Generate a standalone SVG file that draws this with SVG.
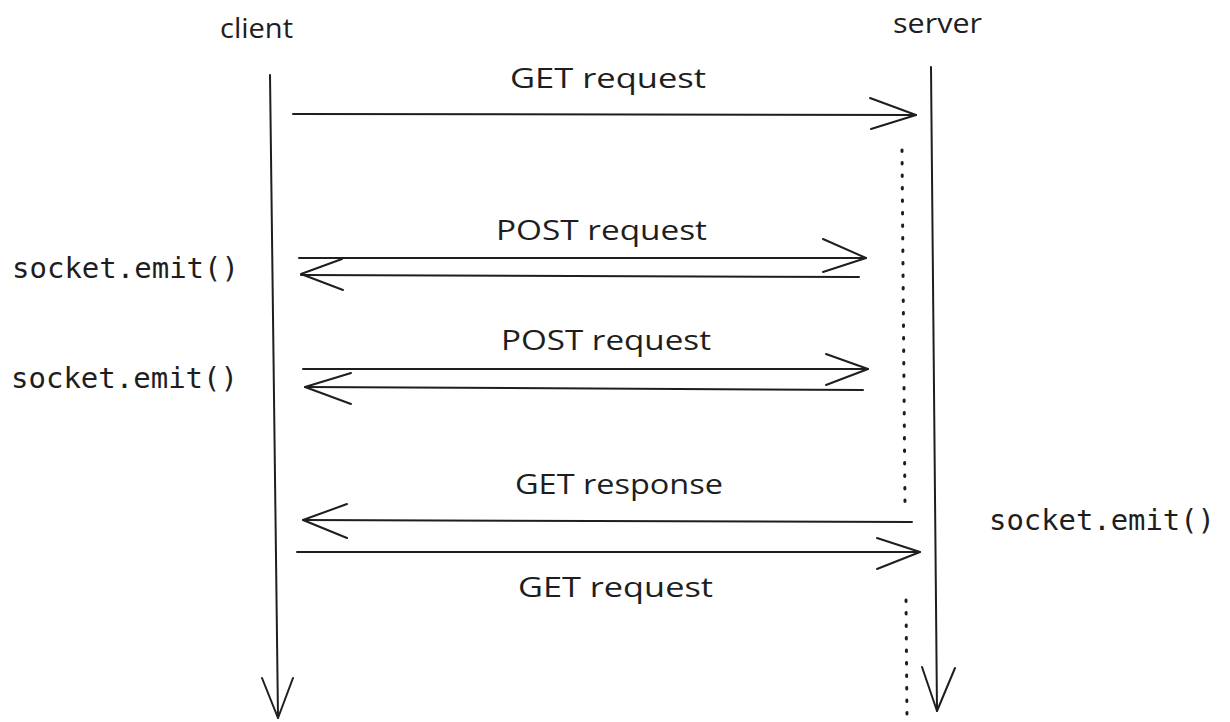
<svg xmlns="http://www.w3.org/2000/svg" width="1230" height="722" viewBox="0 0 1230 722">
  <style>
    .ln { stroke: #1e1e1e; stroke-width: 2; fill: none; stroke-linecap: round; stroke-linejoin: round; }
    .dot { stroke: #1e1e1e; stroke-width: 3; fill: none; stroke-linecap: round; stroke-dasharray: 1.5 11; }
    .hand { font-family: "Open Sans", "Liberation Sans", sans-serif; font-size: 27px; fill: #1e1e1e; }
    .code { font-family: "DejaVu Sans Mono", "Liberation Mono", monospace; font-size: 29px; fill: #1e1e1e; }
  </style>
  <rect width="1230" height="722" fill="#ffffff"/>

  <g id="client">
    <text class="hand" x="220" y="38" textLength="73" lengthAdjust="spacingAndGlyphs">client</text>
    <path class="ln" d="M270 75 L278 718"/>
    <path class="ln" d="M262 678 L278 718 L293 678"/>
  </g>

  <g id="server">
    <text class="hand" x="893" y="33" textLength="89" lengthAdjust="spacingAndGlyphs">server</text>
    <path class="ln" d="M931 67 L937 711"/>
    <path class="ln" d="M922 667 L937 711 L955 668"/>
    <path class="dot" d="M902 150 L905 506"/>
    <path class="dot" d="M906 600 L907 722"/>
  </g>

  <g id="socket-emit-1">
    <text class="code" x="12" y="278" textLength="227" lengthAdjust="spacingAndGlyphs">socket.emit()</text>
  </g>
  <g id="socket-emit-2">
    <text class="code" x="11" y="388" textLength="227" lengthAdjust="spacingAndGlyphs">socket.emit()</text>
  </g>
  <g id="socket-emit-3">
    <text class="code" x="989" y="530" textLength="226" lengthAdjust="spacingAndGlyphs">socket.emit()</text>
  </g>

  <g id="labels">
    <text class="hand" x="510" y="88" textLength="196" lengthAdjust="spacingAndGlyphs">GET request</text>
    <text class="hand" x="496" y="240" textLength="211" lengthAdjust="spacingAndGlyphs">POST request</text>
    <text class="hand" x="501" y="350" textLength="210" lengthAdjust="spacingAndGlyphs">POST request</text>
    <text class="hand" x="515" y="494" textLength="208" lengthAdjust="spacingAndGlyphs">GET response</text>
    <text class="hand" x="518" y="597" textLength="195" lengthAdjust="spacingAndGlyphs">GET request</text>
  </g>

  <g id="connectors">
    <!-- GET request 1 -->
    <path class="ln" d="M293 114 L916 115"/>
    <path class="ln" d="M870 98 L916 115 L871 129"/>
    <!-- POST request 1 -->
    <path class="ln" d="M299 258 L866 258"/>
    <path class="ln" d="M823 239 L866 258 L823 272"/>
    <path class="ln" d="M859 277 L301 275"/>
    <path class="ln" d="M342 259 L301 274 L343 290"/>
    <!-- POST request 2 -->
    <path class="ln" d="M303 369 L868 369"/>
    <path class="ln" d="M826 354 L868 369 L826 385"/>
    <path class="ln" d="M863 390 L305 387"/>
    <path class="ln" d="M351 373 L305 387 L351 404"/>
    <!-- GET response -->
    <path class="ln" d="M912 522 L303 520"/>
    <path class="ln" d="M347 504 L303 520 L347 538"/>
    <!-- GET request 2 -->
    <path class="ln" d="M297 552 L920 552"/>
    <path class="ln" d="M877 538 L920 552 L877 569"/>
  </g>
</svg>
